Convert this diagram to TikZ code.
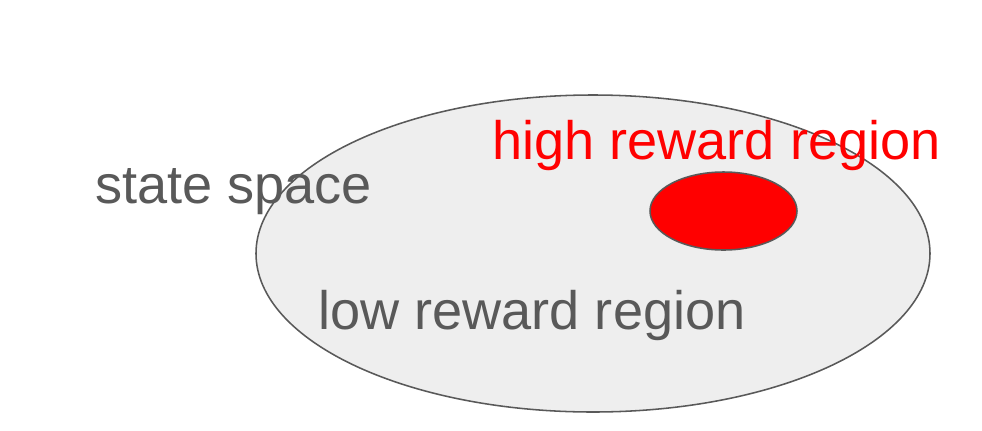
\documentclass[tikz,border=0pt]{standalone}
\usepackage{fontspec}
\setmainfont{Liberation Sans}
\usetikzlibrary{shapes.geometric}

\definecolor{textgray}{HTML}{595959}
\definecolor{fillgray}{HTML}{EEEEEE}

\begin{document}
\begin{tikzpicture}[
    x=0.025cm, y=-0.025cm,
    every node/.style={font=\fontsize{38.5}{40}\selectfont},
    region/.style={ellipse, draw=textgray, line width=1.1pt, inner sep=0pt},
    label/.style={anchor=base west, inner sep=0pt}
]

    \useasboundingbox (0,0) rectangle (982,430);

    % ==========================
    % The regions
    % ==========================
    \node[region, fill=fillgray, minimum width=674*0.025cm, minimum height=317*0.025cm] (space) at (593,253.5) {};
    \node[region, fill=red, minimum width=147*0.025cm, minimum height=78*0.025cm] (high) at (723.5,211) {};

    % ==========================
    % The labels
    % ==========================
    \node[label, text=textgray] (spacelabel) at (95,203) {state space};
    \node[label, text=textgray] (lowlabel) at (318,329) {low reward region};
    \node[label, text=red] (highlabel) at (492,159) {high reward region};

\end{tikzpicture}
\end{document}
